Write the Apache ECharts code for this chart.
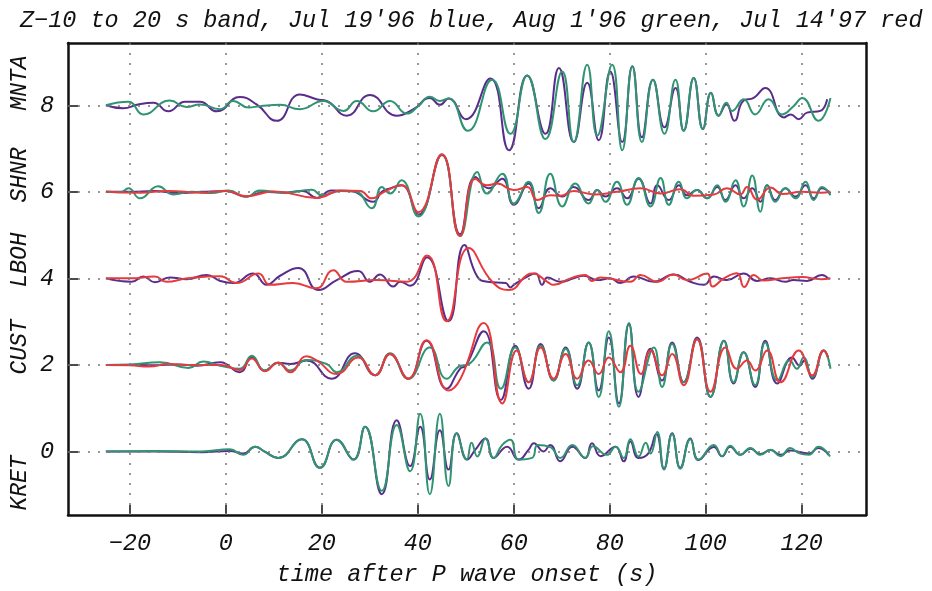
<!DOCTYPE html>
<html>
<head>
<meta charset="utf-8">
<script src="https://cdn.jsdelivr.net/npm/echarts@6/dist/echarts.min.js"></script>
<style>
html,body{margin:0;padding:0;background:#fff;overflow:hidden;}
#chart{width:932px;height:591px;}
</style>
</head>
<body>
<div id="chart"></div>
<script>
// ---------------- data (time s, value) ----------------
var titleText = "Z\u221210 to 20 s band, Jul 19'96 blue, Aug 1'96 green, Jul 14'97 red";
var xAxisTitle = "time after P wave onset (s)";
var xTicks = [-20, 0, 20, 40, 60, 80, 100, 120];
var yTicks = [0, 2, 4, 6, 8];
var stations = ["MNTA", "SHNR", "LBOH", "CUST", "KRET"];

var mntaBlue = [[-25,8.0],[-21.4,7.93],[-18.3,8.02],[-15.1,8.06],[-12.0,7.86],[-8.5,8.08],[-5.4,8.08],[-1.9,7.86],[2.9,8.19],[6.4,8.02],[10.6,7.64],[15.4,8.25],[18.9,8.14],[21.0,8.10],[25.2,7.76],[30.0,8.24],[35.6,7.76],[39.1,7.91],[42.5,8.17],[44.6,8.01],[46.4,8.16],[50.0,7.68],[55.1,8.62],[59.0,6.96],[62.8,8.69],[66.6,7.34],[69.4,8.86],[72.5,7.15],[75.3,8.52],[77.7,7.19],[80.1,8.78],[82.6,7.15],[84.7,8.90],[86.7,7.26],[89.0,8.59],[91.4,7.49],[93.7,8.40],[95.4,7.41],[97.5,8.63],[99.4,7.45],[101.1,8.29],[102.7,7.76],[104.3,8.02],[106.0,7.64],[107.8,8.10],[110.0,8.17],[112.4,8.40],[116.3,7.72],[117.7,7.79],[119.4,7.68],[121.1,7.83],[123.9,7.87],[125.3,8.14]];
var mntaGreen = [[-25,8.0],[-20.3,8.08],[-17.2,7.79],[-11.7,8.11],[-8.2,7.96],[-5.4,8.02],[-1.2,7.91],[1.5,8.10],[4.7,7.95],[7.1,7.98],[11.3,8.01],[15.4,7.91],[20.3,8.10],[24.5,7.87],[27.3,8.10],[30.7,7.86],[34.2,8.10],[37.7,7.81],[40.1,7.98],[42.5,8.20],[44.6,8.10],[46.4,8.16],[50.4,7.41],[55.5,8.59],[59.3,7.34],[62.8,8.69],[66.6,7.22],[70.1,8.78],[72.5,7.15],[75.3,8.94],[77.4,7.30],[80.5,8.94],[82.6,6.96],[84.7,8.90],[86.7,7.15],[89.0,8.59],[91.4,7.34],[93.7,8.59],[95.4,7.41],[97.5,8.63],[99.4,7.45],[101.1,8.29],[102.7,7.76],[104.3,8.06],[105.5,7.87],[107.9,8.14],[110.3,7.79],[113.1,8.14],[115.9,7.79],[118.3,7.98],[120.1,8.17],[123.5,7.64],[126.0,8.17]];

var shnrBlue = [[-25,6.0],[-20,6.0],[-15,6.02],[-10,5.97],[-5,6.0],[0,6.02],[4.3,5.89],[8,6.0],[12,5.98],[16,6.02],[19,5.86],[22,6.03],[26,6.02],[30.7,5.77],[32.5,6.0],[34.2,6.08],[36.6,6.15],[40.1,5.47],[45.0,6.85],[48.8,5.02],[52.0,6.34],[54.8,6.08],[57.6,6.30],[60.0,5.70],[63.1,6.19],[65.2,5.62],[67.6,6.08],[70.1,5.89],[72.5,6.11],[75.6,5.81],[77.4,6.04],[79.1,5.89],[81.5,6.08],[83.6,5.85],[86.0,6.30],[88.5,5.73],[89.9,6.15],[92.3,5.81],[94.4,6.15],[96.1,5.92],[98.2,6.04],[100.3,5.85],[102.4,6.11],[104.1,5.81],[106.2,6.15],[107.9,5.85],[109.7,6.08],[111.4,5.77],[112.8,6.15],[114.5,5.81],[116.6,6.08],[118.7,5.89],[120.8,6.15],[122.5,5.85],[124.2,6.08],[126.0,5.96]];
var shnrGreen = [[-25,6.0],[-22,5.99],[-20.3,6.08],[-17.9,5.85],[-14.1,6.13],[-11,5.94],[-7,6.0],[-3,5.97],[0.5,6.03],[4.3,5.88],[7,6.03],[12,5.98],[17.9,6.05],[20,5.92],[24,6.02],[27,6.01],[30.4,5.62],[32.5,6.11],[34.2,5.96],[36.6,6.27],[40.1,5.43],[45.0,6.86],[48.8,4.98],[52.4,6.46],[54.4,5.96],[57.6,6.42],[60.0,5.73],[63.1,6.23],[65.2,5.51],[67.6,6.42],[70.1,5.66],[72.8,6.19],[75.6,5.73],[77.4,6.04],[79.1,5.77],[81.5,6.23],[83.6,5.70],[86.0,6.32],[88.5,5.66],[90.6,6.32],[92.3,5.70],[94.4,6.23],[96.1,5.85],[98.2,6.04],[100.3,5.85],[102.4,6.15],[104.1,5.77],[106.2,6.27],[107.9,5.66],[109.7,6.38],[111.4,5.54],[112.8,6.15],[114.5,5.77],[116.6,6.08],[118.7,5.85],[120.8,6.23],[122.5,5.81],[124.2,6.11],[126.0,5.92]];
var shnrRed = [[-25,6.0],[-18,5.98],[-12,6.02],[-5,5.98],[0,6.02],[4.3,5.9],[10,6.01],[19,5.86],[24,6.03],[28,6.02],[30.4,5.85],[33,6.0],[36.6,6.15],[40.1,5.53],[45.0,6.87],[48.8,4.98],[52.0,6.30],[54.4,6.15],[56.5,6.19],[60.0,6.04],[62.8,6.11],[64.9,5.81],[67.6,5.92],[69.7,5.91],[72.5,6.02],[76.7,5.94],[81.5,6.0],[86.4,6.08],[90.6,5.96],[94.7,6.06],[97.5,5.91],[101.7,5.94],[104.4,6.08],[107.2,5.94],[108.6,6.11],[110.7,5.82],[113.5,6.10],[116,5.95],[120,6.0],[124,5.98],[126,6.0]];

var lbohBlue = [[-25,4.0],[-19.7,3.92],[-17.2,4.04],[-14.8,3.91],[-11.7,4.02],[-8.2,3.98],[-4.0,4.08],[-1.2,3.94],[1.5,3.89],[5.7,4.11],[8.5,3.85],[11.3,4.06],[15.1,4.24],[19.3,3.73],[23.1,3.96],[27.6,4.17],[30.0,3.92],[32.1,4.09],[34.9,3.81],[36.3,3.92],[38.4,3.83],[41.9,4.49],[46.4,3.01],[49.7,4.77],[52.4,4.04],[54.5,3.92],[58.3,3.89],[59.3,3.79],[60.0,3.85],[63.5,4.08],[64.6,4.11],[65.9,3.85],[67.0,4.02],[69.7,3.92],[72.5,4.0],[74.6,4.06],[77.4,3.96],[80.1,4.0],[82.2,3.89],[85.0,4.04],[89.2,3.92],[93.3,4.09],[96.8,3.92],[99.6,3.85],[101.7,4.04],[104.4,3.96],[107.9,4.11],[110.7,3.94],[113.5,4.0],[116.6,3.92],[118.3,3.96],[121.1,3.94],[124.2,4.08],[125.5,4.0]];
var lbohRed = [[-25,4.0],[-20,4.0],[-14.8,4.04],[-12.4,3.92],[-8,4.0],[-1.2,4.05],[2.2,3.89],[6.8,4.11],[9.2,3.85],[14,3.89],[18.8,3.77],[22.4,4.19],[25.2,3.92],[31.4,3.96],[37.7,3.92],[41.9,4.53],[46.0,3.01],[50.6,4.70],[55.5,3.92],[59.0,3.73],[62.8,4.08],[63.9,4.11],[67.0,3.92],[68.3,3.85],[71.8,4.0],[74.9,4.08],[76.3,3.94],[78.0,4.02],[84.3,3.92],[86.4,4.08],[89.9,3.92],[93.3,4.09],[96.1,3.96],[100.3,4.11],[101.4,3.81],[103.8,4.0],[106.5,4.12],[108.0,3.80],[110.0,4.08],[112.0,3.95],[116.0,4.0],[120.0,4.03],[124.0,3.98],[126.0,4.0]];

var custBlue = [[-25,2.0],[-20,2.0],[-15,1.99],[-10,2.01],[-6,1.98],[-1.2,2.06],[2.9,1.83],[5.4,2.17],[8.1,1.87],[10.9,2.05],[13.4,2.02],[16.8,2.10],[22.0,1.68],[26.9,2.27],[31.1,1.76],[34.2,2.25],[38.0,1.68],[41.8,2.56],[46.0,1.45],[48.8,1.91],[50.0,1.98],[53.75,2.78],[57.3,1.19],[60.3,2.44],[63.1,1.45],[65.6,2.48],[68.3,1.64],[70.8,2.40],[73.2,1.45],[75.6,2.52],[77.7,1.41],[79.8,2.63],[81.9,1.11],[84.0,2.94],[86.0,1.26],[88.5,2.37],[90.9,1.64],[93.0,2.52],[95.4,1.60],[98.2,2.63],[101.0,1.26],[103.8,2.56],[105.8,1.57],[107.9,2.29],[110.3,1.49],[112.4,2.56],[114.9,1.57],[118.0,2.17],[119.6,1.98],[120.5,2.10],[122.2,1.68],[124.6,2.33],[125.5,2.17]];
var custGreen = [[-25,2.0],[-20,2.01],[-13.7,2.06],[-7.8,1.93],[-4.7,2.08],[-1.2,1.98],[2.9,1.91],[5.4,2.21],[8.1,1.87],[10.9,2.05],[13.4,1.87],[16.8,2.11],[21.0,2.02],[23.1,1.83],[27.3,2.21],[31.1,1.76],[34.2,2.27],[38.0,1.68],[42.5,2.40],[46.0,1.68],[48.9,1.98],[50.3,2.0],[54.4,2.52],[57.3,1.45],[60.3,2.40],[63.1,1.60],[65.6,2.44],[68.3,1.64],[70.8,2.37],[73.2,1.53],[75.6,2.52],[77.7,1.26],[79.8,2.78],[81.9,1.03],[84.0,2.97],[86.0,1.38],[89.2,2.40],[90.9,1.49],[93.0,2.48],[95.4,1.60],[98.2,2.59],[101.0,1.26],[103.8,2.56],[105.8,1.60],[107.9,2.29],[110.3,1.53],[112.4,2.52],[114.9,1.64],[117.5,2.10],[119.0,1.91],[120.4,2.17],[122.2,1.72],[124.6,2.33],[126.0,1.91]];
var custRed = [[-25,2.0],[-20,1.99],[-16,1.96],[-12,2.02],[-8,2.0],[-4,2.0],[-1,2.0],[2.9,1.88],[5.4,2.15],[8.1,1.85],[10.9,2.05],[13.4,1.83],[16.8,2.20],[19.0,2.10],[23.1,1.79],[27.6,2.17],[31.1,1.76],[34.2,2.25],[38.0,1.68],[41.8,2.57],[46.4,1.41],[48.9,1.68],[53.75,2.97],[57.6,1.11],[60.6,2.33],[63.1,1.60],[65.6,2.40],[68.3,1.68],[70.8,2.25],[73.2,1.68],[75.6,2.10],[77.7,1.79],[79.8,2.17],[82.2,1.83],[84.3,2.44],[86.5,1.79],[88.5,2.33],[90.9,1.76],[93.0,2.25],[95.4,1.53],[98.2,2.59],[101.0,1.38],[104.1,2.40],[106.5,1.91],[108.6,2.10],[110.3,1.87],[112.8,2.33],[115.6,1.60],[119.4,2.33],[122.2,1.76],[124.6,2.33],[125.5,2.17]];

var kretBlue = [[-25,0],[-15,0.0],[-5,-0.02],[0.8,0.01],[3.6,-0.05],[6.1,0.11],[8.0,0.0],[10.9,-0.15],[15.8,0.28],[19.6,-0.38],[23.1,0.27],[26.6,-0.19],[29.0,0.57],[32.5,-0.99],[35.6,0.72],[38.4,-0.34],[40.5,0.57],[42.5,-0.65],[44.6,0.49],[46.4,-0.42],[48.1,0.42],[50.3,-0.19],[52.0,0.04],[54.1,0.30],[55.8,-0.15],[58.6,0.11],[61.0,-0.19],[63.1,0.04],[64.2,0.19],[66.2,0.0],[67.6,0.15],[69.7,-0.23],[72.2,0.11],[74.9,-0.15],[76.3,0.19],[78.1,-0.11],[81.2,0.11],[82.9,-0.23],[84.3,0.23],[86.0,-0.15],[88.0,-0.05],[89.7,0.40],[91.3,-0.40],[93.0,0.42],[94.7,-0.38],[96.8,0.30],[98.5,-0.20],[101.7,0.10],[103.4,-0.11],[105.1,0.11],[107.2,-0.08],[109.3,0.06],[111.4,-0.06],[113.5,0.03],[115.6,-0.08],[117.6,0.02],[121.5,-0.05],[123.5,0.08],[125.6,-0.08]];
var kretGreen = [[-25,0],[-15,0.01],[-5,0.0],[0.8,0.05],[3.6,-0.08],[6.1,0.11],[8.0,0.0],[10.9,-0.15],[15.8,0.28],[19.6,-0.38],[23.1,0.27],[26.6,-0.19],[29.0,0.57],[32.5,-0.91],[35.6,0.61],[38.4,-0.46],[40.5,0.87],[42.5,-0.99],[44.6,0.87],[46.4,-0.80],[48.1,0.42],[50.2,-0.19],[51.2,0.20],[52.4,-0.12],[54.1,0.30],[55.8,-0.15],[57.6,0.15],[59.3,0.27],[61.0,-0.19],[63.8,-0.15],[65.0,0.15],[67.6,0.10],[69.7,-0.15],[72.2,0.15],[74.9,-0.15],[76.5,0.12],[79.4,-0.08],[81.2,0.11],[82.9,-0.15],[84.3,0.28],[86.0,-0.12],[87.5,0.20],[88.5,-0.05],[89.9,0.45],[91.3,-0.42],[93.0,0.40],[94.7,-0.40],[96.8,0.28],[98.5,-0.19],[101.7,0.15],[103.4,-0.11],[105.1,0.13],[107.2,-0.08],[109.3,0.08],[111.4,-0.08],[113.5,0.04],[115.6,-0.11],[117.6,0.08],[119.4,-0.04],[121.5,-0.08],[123.5,0.11],[125.9,-0.12]];

// ---------------- chart ----------------
var FONT = "'Liberation Mono', monospace";
var C_BLUE = '#5a2d8c', C_GREEN = '#2f9472', C_RED = '#e63a3c';

function fmt(v){ return v < 0 ? '\u2212' + Math.abs(v) : String(v); }
function line(name, data, color){
  return { name: name, type: 'line', data: data, smooth: 0.5, showSymbol: false,
    lineStyle: { color: color, width: 2 }, itemStyle: { color: color }, z: 3, animation: false };
}

var gridLines = [];
xTicks.forEach(function(v){ gridLines.push({ xAxis: v }); });
yTicks.forEach(function(v){ gridLines.push({ yAxis: v }); });

var series = [
  { type: 'line', data: [], markLine: { silent: true, symbol: 'none', label: { show: false },
      lineStyle: { color: '#777', type: [2, 8], width: 1.5 }, data: gridLines, animation: false } },
  line('MNTA blue', mntaBlue, C_BLUE), line('MNTA green', mntaGreen, C_GREEN),
  line('SHNR blue', shnrBlue, C_BLUE), line('SHNR green', shnrGreen, C_GREEN), line('SHNR red', shnrRed, C_RED),
  line('LBOH blue', lbohBlue, C_BLUE), line('LBOH red', lbohRed, C_RED),
  line('CUST blue', custBlue, C_BLUE), line('CUST green', custGreen, C_GREEN), line('CUST red', custRed, C_RED),
  line('KRET blue', kretBlue, C_BLUE), line('KRET green', kretGreen, C_GREEN)
];

var stationY = [83, 175, 260, 347, 483];
var graphics = stations.map(function(s, i){
  return { type: 'text', x: 20, y: stationY[i], rotation: Math.PI / 2,
    style: { text: s, font: 'italic 23px ' + FONT, fill: '#111', textAlign: 'center', textVerticalAlign: 'middle' } };
});

var axisLineStyle = { color: '#111', width: 2.5 };
var option = {
  backgroundColor: '#fff',
  animation: false,
  title: { text: titleText, left: 15, top: 4,
    textStyle: { fontFamily: FONT, fontStyle: 'italic', fontWeight: 'normal', fontSize: 23.5, color: '#111' } },
  grid: { left: 68, right: 66, top: 43, bottom: 70 },
  xAxis: [{
    type: 'value', min: -32.9, max: 133.4, position: 'bottom',
    name: xAxisTitle, nameLocation: 'middle', nameGap: 48,
    nameTextStyle: { fontFamily: FONT, fontStyle: 'italic', fontSize: 23.5, color: '#111' },
    axisLine: { onZero: false, lineStyle: axisLineStyle },
    axisTick: { inside: true, length: 10, customValues: xTicks, lineStyle: { color: '#111', width: 1.5 } },
    axisLabel: { customValues: xTicks, formatter: fmt, margin: 17,
      fontFamily: FONT, fontStyle: 'italic', fontSize: 23.5, color: '#111' },
    splitLine: { show: false }
  }, {
    type: 'value', min: -32.9, max: 133.4, position: 'top',
    axisLine: { onZero: false, lineStyle: axisLineStyle },
    axisTick: { show: false }, axisLabel: { show: false }, splitLine: { show: false }
  }],
  yAxis: [{
    type: 'value', min: -1.47, max: 9.44, position: 'left',
    axisLine: { onZero: false, lineStyle: axisLineStyle },
    axisTick: { inside: true, length: 10, customValues: yTicks, lineStyle: { color: '#111', width: 1.5 } },
    axisLabel: { customValues: yTicks, formatter: fmt, margin: 14,
      fontFamily: FONT, fontStyle: 'italic', fontSize: 23.5, color: '#111' },
    splitLine: { show: false }
  }, {
    type: 'value', min: -1.47, max: 9.44, position: 'right',
    axisLine: { onZero: false, lineStyle: axisLineStyle },
    axisTick: { show: false }, axisLabel: { show: false }, splitLine: { show: false }
  }],
  graphic: graphics,
  series: series
};

var chart = echarts.init(document.getElementById('chart'), null, { renderer: 'canvas' });
chart.setOption(option);
</script>
</body>
</html>
